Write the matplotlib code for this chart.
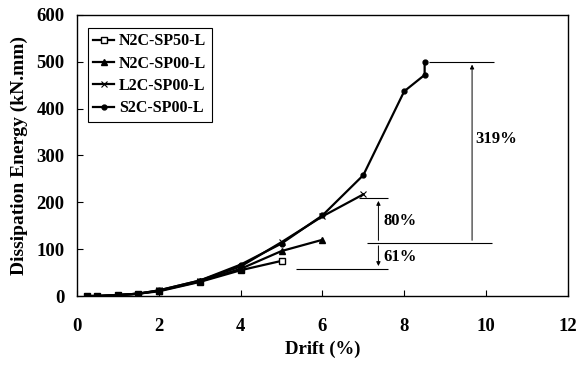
import numpy as np
import matplotlib.pyplot as plt

plt.rcParams['font.family'] = ['Liberation Serif', 'DejaVu Serif']
plt.rcParams['font.weight'] = 'bold'

# --- DATA ---
drift_sp50 = [0.25, 0.5, 1, 1.5, 2, 3, 4, 5]
energy_sp50 = [0, 0, 2, 5, 10, 30, 55, 75]

drift_n2c = [0.25, 0.5, 1, 1.5, 2, 3, 4, 5, 6]
energy_n2c = [0, 0, 2, 5, 11, 31, 58, 96, 120]

drift_l2c = [0.25, 0.5, 1, 1.5, 2, 3, 4, 5, 6, 7]
energy_l2c = [0, 0, 2, 5, 12, 33, 63, 115, 170, 217]

drift_s2c = [0.25, 0.5, 1, 1.5, 2, 3, 4, 5, 6, 7, 8, 8.5, 8.5]
energy_s2c = [0, 0, 2, 5, 12, 33, 67, 112, 172, 258, 437, 472, 500]

labels = ['N2C-SP50-L', 'N2C-SP00-L', 'L2C-SP00-L', 'S2C-SP00-L']

# --- PLOT ---
fig = plt.figure(figsize=(5.77, 3.65), dpi=100)
ax = fig.add_axes([0.1335, 0.189, 0.8505, 0.770])

ax.plot(drift_sp50, energy_sp50, color='k', lw=1.6, marker='s', ms=4,
        mfc='white', mec='k', label=labels[0])
ax.plot(drift_n2c, energy_n2c, color='k', lw=1.6, marker='^', ms=5,
        label=labels[1])
ax.plot(drift_l2c, energy_l2c, color='k', lw=1.6, marker='x', ms=5,
        mew=0.8, label=labels[2])
ax.plot(drift_s2c, energy_s2c, color='k', lw=1.6, marker='o', ms=3.5,
        label=labels[3])

# annotation lines and arrows
ax.hlines(500, 8.6, 10.2, color='k', lw=0.8)
ax.hlines(113, 7.1, 10.15, color='k', lw=0.8)
ax.hlines(209, 6.9, 7.6, color='k', lw=0.8)
ax.hlines(58, 5.35, 7.6, color='k', lw=0.8)
arr = dict(arrowstyle='-|>', color='k', lw=0.7, mutation_scale=6)
ax.annotate('', xy=(9.66, 500), xytext=(9.66, 113), arrowprops=arr)
ax.annotate('', xy=(7.37, 209), xytext=(7.37, 113), arrowprops=arr)
ax.annotate('', xy=(7.37, 58), xytext=(7.37, 113), arrowprops=arr)
ax.text(9.75, 335, '319%', fontsize=12, fontweight='bold', va='center')
ax.text(7.5, 160, '80%', fontsize=12, fontweight='bold', va='center')
ax.text(7.5, 84, '61%', fontsize=12, fontweight='bold', va='center')

ax.set_xlim(0, 12)
ax.set_ylim(0, 600)
ax.set_xticks(np.arange(0, 13, 2))
ax.set_yticks(np.arange(0, 601, 100))
ax.tick_params(direction='in', labelsize=13.5, length=4, width=0.8)
ax.tick_params(axis='x', pad=16)
ax.tick_params(axis='y', pad=9)
for t in ax.get_xticklabels() + ax.get_yticklabels():
    t.set_fontweight('bold')
for s in ax.spines.values():
    s.set_linewidth(1.0)

ax.set_xlabel('Drift (%)', fontsize=13.5, fontweight='bold', labelpad=4)
ax.set_ylabel('Dissipation Energy (kN.mm)', fontsize=14, fontweight='bold',
              labelpad=6)

leg = ax.legend(loc='upper left', bbox_to_anchor=(0.022, 0.955), fontsize=11.5,
                fancybox=False, edgecolor='k', framealpha=1, handlelength=1.3,
                handletextpad=0.3, labelspacing=0.4, borderpad=0.35,
                borderaxespad=0)
leg.get_frame().set_linewidth(0.8)
for t in leg.get_texts():
    t.set_fontweight('bold')

plt.savefig('out.png', dpi=100)
